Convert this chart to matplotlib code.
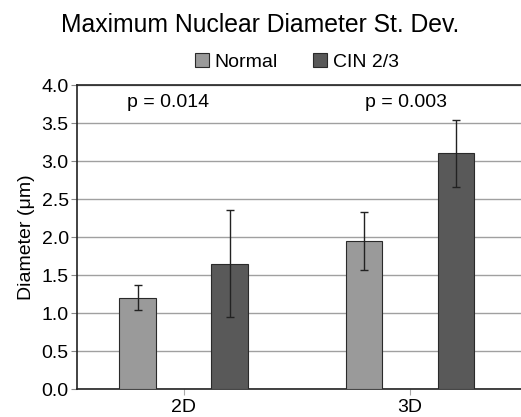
import matplotlib.pyplot as plt
import numpy as np

plt.rcParams['font.family'] = ['Liberation Sans', 'DejaVu Sans']

categories = ["2D", "3D"]
normal = [1.20, 1.95]
normal_sd = [0.165, 0.38]
cin = [1.65, 3.10]
cin_sd = [0.70, 0.44]
p_labels = ["p = 0.014", "p = 0.003"]

x = np.arange(len(categories))
w = 0.162
off = 0.203

fig = plt.figure(figsize=(5.21, 4.17), dpi=100)
ax = fig.add_axes([0.148, 0.067, 0.852, 0.729])

ax.bar(x - off, normal, w, color="#9a9a9a", edgecolor="#2a2a2a", linewidth=0.8,
       label="Normal", zorder=3)
ax.bar(x + off, cin, w, color="#595959", edgecolor="#2a2a2a", linewidth=0.8,
       label="CIN 2/3", zorder=3)
ax.errorbar(x - off, normal, yerr=normal_sd, fmt="none", ecolor="#222222",
            elinewidth=1, capsize=3, capthick=1, zorder=4)
ax.errorbar(x + off, cin, yerr=cin_sd, fmt="none", ecolor="#222222",
            elinewidth=1, capsize=3, capthick=1, zorder=4)

# p-values sit a bit left of each category centre
for xi, dx, t in zip(x, [-0.07, -0.018], p_labels):
    ax.text(xi + dx, 3.77, t, ha="center", va="center", fontsize=14)

ax.set_ylim(0, 4.0)
ax.set_xlim(-0.47, 1.49)
ax.set_yticks(np.arange(0, 4.01, 0.5))
ax.set_yticklabels(["%.1f" % v for v in np.arange(0, 4.01, 0.5)], fontsize=14)
ax.set_xticks(x)
ax.set_xticklabels(categories, fontsize=14)
ax.tick_params(axis="y", length=4, color="#888888", pad=2)
ax.tick_params(axis="x", length=4, color="#aaaaaa", pad=3)
ax.yaxis.grid(True, color="#a0a0a0", linewidth=1, zorder=0)
ax.set_axisbelow(True)
for s in ["left", "bottom", "top"]:
    ax.spines[s].set_color("#222222")
    ax.spines[s].set_linewidth(1.2)
ax.spines["right"].set_visible(False)
ax.set_ylabel("Diameter (\u03bcm)", fontsize=14, labelpad=5)

fig.text(0.5, 0.94, "Maximum Nuclear Diameter St. Dev.", ha="center", va="center",
         fontsize=17.8)
fig.legend(loc="center", bbox_to_anchor=(0.57, 0.851), ncol=2, frameon=False,
           fontsize=14, handlelength=0.7, handleheight=0.7, handletextpad=0.3,
           columnspacing=1.8)

fig.savefig("out.png", dpi=100)
